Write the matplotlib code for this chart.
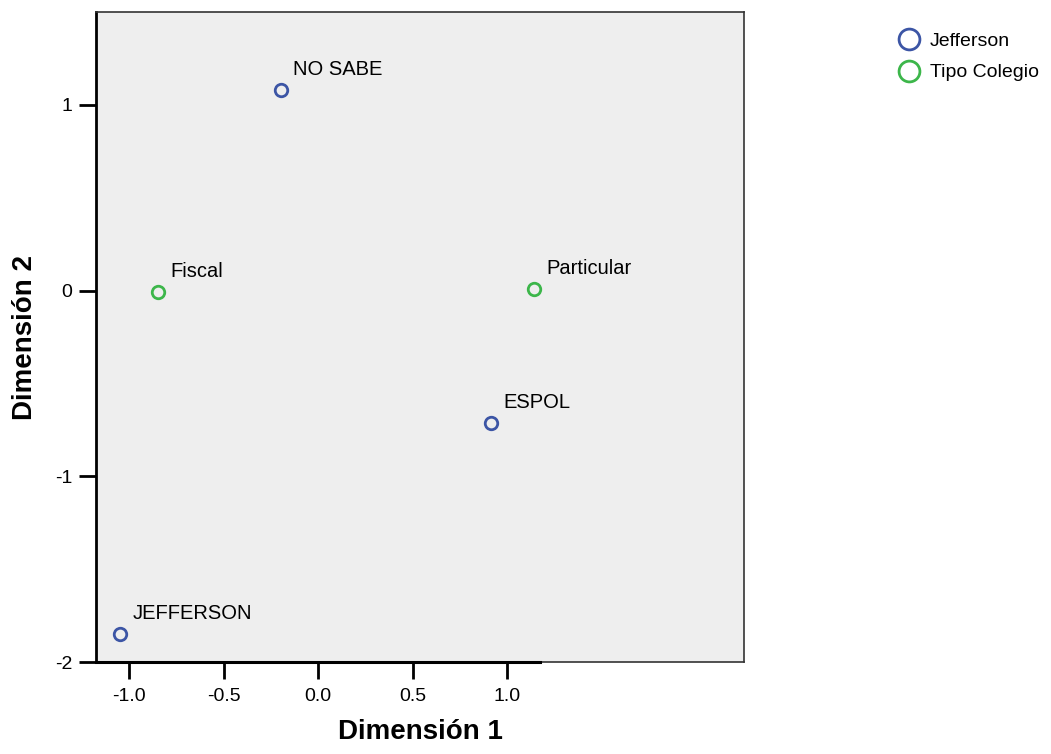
import matplotlib
matplotlib.use("Agg")
import matplotlib.pyplot as plt

plt.rcParams['font.family'] = ['Liberation Sans', 'DejaVu Sans']

# Category points (dimension 1, dimension 2)
jefferson_labels = ["NO SABE", "ESPOL", "JEFFERSON"]
jefferson_x = [-0.196, 0.915, -1.048]
jefferson_y = [1.08, -0.715, -1.85]

colegio_labels = ["Fiscal", "Particular"]
colegio_x = [-0.847, 1.143]
colegio_y = [-0.01, 0.01]

xticks = [-1.0, -0.5, 0.0, 0.5, 1.0]
yticks = [-2, -1, 0, 1]

blue = "#3c55a5"
green = "#3cb64a"

fig = plt.figure(figsize=(10.51, 7.54), dpi=100)
ax = fig.add_axes([0.0913, 0.122, 0.6166, 0.862])
ax.set_facecolor("#eeeeee")

ax.plot(jefferson_x, jefferson_y, 'o', ms=9, mfc='none', mec=blue, mew=2, linestyle='none')
ax.plot(colegio_x, colegio_y, 'o', ms=9, mfc='none', mec=green, mew=2, linestyle='none')

for lbl, x, y in zip(jefferson_labels + colegio_labels, jefferson_x + colegio_x, jefferson_y + colegio_y):
    ax.annotate(lbl, (x, y), xytext=(9, 8), textcoords='offset points',
                ha='left', va='bottom', fontsize=14.5, color='black')

ax.set_xlim(-1.175, 2.254)
ax.set_ylim(-2.0, 1.5)
ax.set_xticks(xticks)
ax.set_xticklabels([f"{v:.1f}" for v in xticks])
ax.set_yticks(yticks)
ax.set_yticklabels([str(v) for v in yticks])
ax.tick_params(axis='both', labelsize=14, length=12, width=2, color='black', pad=5)
ax.tick_params(axis='x', pad=7)

for s in ax.spines.values():
    s.set_color('#333333')
    s.set_linewidth(1.2)
ax.spines['left'].set_color('black')
ax.spines['left'].set_linewidth(2)
# darker axis line over the range of the x ticks
ax.plot([-1.175, 1.175], [-2.0, -2.0], color='black', lw=2.2, clip_on=False, zorder=5)

ax.set_xlabel("Dimensión 1", fontsize=20, fontweight='bold', labelpad=10)
ax.set_ylabel("Dimensión 2", fontsize=20, fontweight='bold', labelpad=12)

h1, = ax.plot([], [], 'o', ms=15, mfc='none', mec=blue, mew=2)
h2, = ax.plot([], [], 'o', ms=15, mfc='none', mec=green, mew=2)
fig.legend([h1, h2], ["Jefferson", "Tipo Colegio"], loc='upper left',
           bbox_to_anchor=(0.834, 0.98), frameon=False, fontsize=14,
           handletextpad=0.35, labelspacing=0.7, handlelength=1.5)

fig.savefig("out.png", dpi=100)
